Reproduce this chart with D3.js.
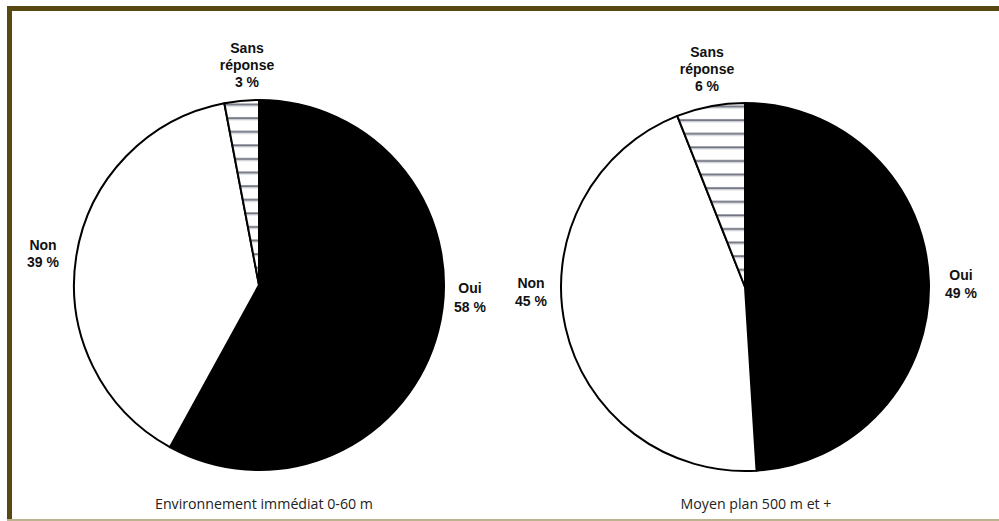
<!DOCTYPE html>
<html>
<head>
<meta charset="utf-8">
<script src="https://cdn.jsdelivr.net/npm/d3@7"></script>
<style>
  html, body { margin: 0; padding: 0; background: #fff; }
  svg { display: block; }
</style>
</head>
<body>
<svg id="chart" width="999" height="521"></svg>
<script>
// Answer categories, in drawing order (clockwise from 12 o'clock)
const categories = ["Oui", "Non", "Sans réponse"];
// Percentages for each view distance
const immediateValues = [58, 39, 3];
const midRangeValues = [49, 45, 6];
// Captions under each pie
const captions = ["Environnement immédiat 0-60 m", "Moyen plan 500 m et +"];

const svg = d3.select("#chart");
const W = 999, H = 521;

// Frame: heavy dark top/left rule, thin tan bottom rule
svg.append("rect").attr("x", 0).attr("y", 0).attr("width", W).attr("height", H).attr("fill", "#fff");
svg.append("rect").attr("x", 7).attr("y", 6).attr("width", W - 7).attr("height", 5).attr("fill", "#5a4812");
svg.append("rect").attr("x", 7).attr("y", 6).attr("width", 5).attr("height", H - 7).attr("fill", "#5a4812");
svg.append("rect").attr("x", 7).attr("y", 519).attr("width", W - 7).attr("height", 2).attr("fill", "#bdb48f");

// Horizontal-line hatching for the "no answer" slice
const defs = svg.append("defs");
const pat = defs.append("pattern")
  .attr("id", "hatch")
  .attr("patternUnits", "userSpaceOnUse")
  .attr("width", 20).attr("height", 13.6);
pat.append("rect").attr("width", 20).attr("height", 13.6).attr("fill", "#fff");
pat.append("rect").attr("x", 0).attr("y", 9).attr("width", 20).attr("height", 2).attr("fill", "#6c717d");
pat.append("rect").attr("x", 0).attr("y", 11).attr("width", 20).attr("height", 1).attr("fill", "#c4c7cd");

const fills = ["#000", "#fff", "url(#hatch)"];

const pie = d3.pie().sort(null).value(d => d.value);

function drawPie(values, cx, cy, r, caption, capX, labelPos) {
  const data = categories.map((c, i) => ({ name: c, value: values[i] }));
  const arcs = pie(data);
  const arc = d3.arc().innerRadius(0).outerRadius(r);
  const g = svg.append("g").attr("transform", `translate(${cx},${cy})`);

  g.selectAll("path.slice")
    .data(arcs)
    .join("path")
    .attr("class", "slice")
    .attr("d", arc)
    .attr("fill", (d, i) => fills[i])
    .attr("stroke", "#000")
    .attr("stroke-width", 2)
    .attr("stroke-linejoin", "round");

  // Slice labels: name + percentage, bold, centred
  arcs.forEach((a, i) => {
    const p = labelPos[i];
    const lines = a.data.name === "Sans réponse"
      ? ["Sans", "réponse", `${a.data.value} %`]
      : [a.data.name, `${a.data.value} %`];
    const t = svg.append("text")
      .attr("x", p.x).attr("y", p.y)
      .attr("text-anchor", "middle")
      .attr("font-family", "'Liberation Sans', Arial, sans-serif")
      .attr("font-weight", "bold")
      .attr("font-size", 14)
      .attr("fill", "#111");
    lines.forEach((l, k) => {
      t.append("tspan").attr("x", p.x).attr("dy", k === 0 ? 0 : p.lh).text(l);
    });
  });

  svg.append("text")
    .attr("x", capX).attr("y", 509)
    .attr("text-anchor", "middle")
    .attr("font-family", "'Open Sans', 'Noto Sans', sans-serif")
    .attr("font-size", 14.2)
    .attr("fill", "#222")
    .text(caption);
}

drawPie(immediateValues, 259, 285, 185, captions[0], 264, [
  { x: 470, y: 293, lh: 19 },
  { x: 43, y: 250, lh: 17 },
  { x: 247, y: 53, lh: 17 }
]);
drawPie(midRangeValues, 745, 287, 184, captions[1], 756, [
  { x: 961, y: 280, lh: 18 },
  { x: 531, y: 288, lh: 18 },
  { x: 707, y: 57, lh: 17 }
]);
</script>
</body>
</html>
